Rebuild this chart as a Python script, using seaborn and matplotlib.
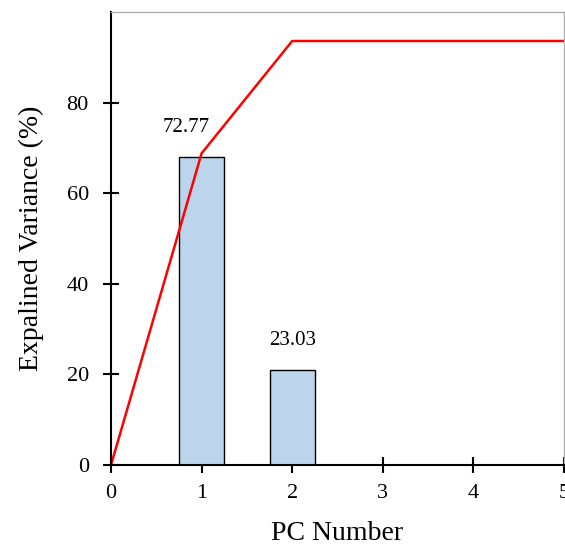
import pandas as pd
import seaborn as sns
import matplotlib.pyplot as plt

# Datos
pc_bar = [1, 2]
var_bar = [68.1, 21.0]
etiquetas = ["72.77", "23.03"]

pc_acum = [0, 1, 2, 3, 4, 5]
var_acum = [0, 68.8, 93.6, 93.6, 93.6, 93.6]

df_bar = pd.DataFrame({"PC": pc_bar, "Varianza": var_bar})
df_acum = pd.DataFrame({"PC": pc_acum, "Acumulada": var_acum})

sns.set_style("white")
plt.rcParams["font.family"] = ["Liberation Serif", "DejaVu Serif"]
plt.rcParams["text.color"] = "black"
plt.rcParams["axes.labelcolor"] = "black"
plt.rcParams["xtick.color"] = "black"
plt.rcParams["ytick.color"] = "black"

fig = plt.figure(figsize=(5.65, 5.46), dpi=100)
ax = fig.add_axes([111 / 565, 1 - 465 / 546, 453 / 565, 453 / 546])

sns.barplot(data=df_bar, x="PC", y="Varianza", native_scale=True, width=0.5,
            color="#bdd5ec", saturation=1, edgecolor="black", linewidth=1, ax=ax)
sns.lineplot(data=df_acum, x="PC", y="Acumulada", color="red", linewidth=1.8, ax=ax)

# Etiquetas sobre las barras
desplaz = [-0.17, 0.0]
for x, h, txt, d in zip(pc_bar, var_bar, etiquetas, desplaz):
    ax.text(x + d, h + 4.4, txt, ha="center", va="bottom", fontsize=15)

ax.set_xlim(0, 5)
ax.set_ylim(0, 100)
ax.set_xticks([0, 1, 2, 3, 4, 5])
ax.set_yticks([0, 20, 40, 60, 80])
ax.tick_params(axis="both", direction="inout", length=12, width=1.5,
               labelsize=16, color="black", labelcolor="black", left=True, bottom=True)
ax.tick_params(axis="x", pad=8)
ax.tick_params(axis="y", pad=10)

for lado in ["left", "bottom"]:
    ax.spines[lado].set_color("black")
    ax.spines[lado].set_linewidth(1.5)
for lado in ["top", "right"]:
    ax.spines[lado].set_color("#b0b0b0")
    ax.spines[lado].set_linewidth(1)

ax.set_xlabel("PC Number", fontsize=20, labelpad=13)
ax.set_ylabel("Expalined Variance (%)", fontsize=20, labelpad=16)

fig.savefig("out.png", dpi=100)
